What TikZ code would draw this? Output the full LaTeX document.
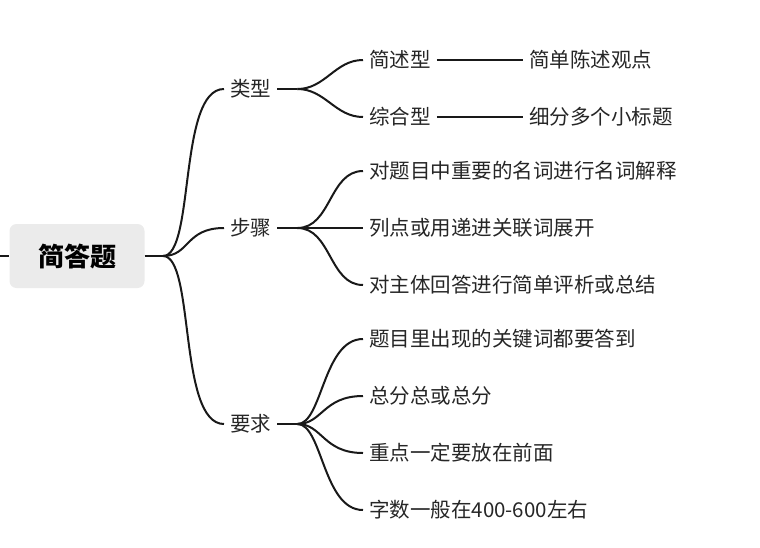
\documentclass[tikz,border=0pt]{standalone}
\usepackage{fontspec}
\setmainfont{Noto Sans CJK SC}
\usetikzlibrary{positioning}
\tikzset{
  lnk/.style={line width=2pt, black!90},
  txt/.style={font=\fontsize{20.5}{22}\selectfont, inner xsep=6pt, inner ysep=2pt, anchor=west, text=black!85}
}
\begin{document}
\begin{tikzpicture}[x=1pt,y=-1pt]
  \useasboundingbox (0,0) rectangle (760,547);
  \tikzstyle{root} = [fill=black!8, rounded corners=7pt, minimum width=135pt, minimum height=64pt, font=\fontsize{26}{28}\selectfont\bfseries]

  \node[root] (jdt) at (77,256) {简答题};
  \coordinate (lft) at (0,256);
  \coordinate (hub) at (163,256);

  % first level
  \node[txt] (lx) at (224,89) {类型};
  \node[txt] (bz) at (224,228) {步骤};
  \node[txt] (yq) at (224,424) {要求};

  % second level
  \node[txt] (jsx) at (363,60) {简述型};
  \node[txt] (zhx) at (363,117) {综合型};
  \node[txt] (jdcs) at (523,60) {简单陈述观点};
  \node[txt] (xfdg) at (523,117) {细分多个小标题};

  \node[txt] (b1) at (363,171) {对题目中重要的名词进行名词解释};
  \node[txt] (b2) at (363,228) {列点或用递进关联词展开};
  \node[txt] (b3) at (363,285) {对主体回答进行简单评析或总结};

  \node[txt] (y1) at (363,339) {题目里出现的关键词都要答到};
  \node[txt] (y2) at (363,396) {总分总或总分};
  \node[txt] (y3) at (363,453) {重点一定要放在前面};
  \node[txt] (y4) at (363,510) {字数一般在400-600左右};

  \draw[lnk] (lft) -- (jdt.west);
  \draw[lnk] (jdt.east) -- (hub);
  \draw[lnk] (hub) .. controls (195,256) and (178,89) .. (lx.west);
  \draw[lnk] (hub) .. controls (190,256) and (185,228) .. (bz.west);
  \draw[lnk] (hub) .. controls (195,256) and (178,424) .. (yq.west);

  \draw[lnk] (lx.east) -- ++(20,0) coordinate (lxh);
  \draw[lnk] (bz.east) -- ++(20,0) coordinate (bzh);
  \draw[lnk] (yq.east) -- ++(20,0) coordinate (yqh);

  \foreach \c in {jsx,zhx}
    \draw[lnk] (lxh) to[out=0,in=180] (\c.west);
  \foreach \c in {b1,b2,b3}
    \draw[lnk] (bzh) to[out=0,in=180] (\c.west);
  \foreach \c in {y1,y2,y3,y4}
    \draw[lnk] (yqh) .. controls ([xshift=25]yqh) and ([xshift=-40]\c.west) .. (\c.west);

  \draw[lnk] (jsx.east) -- (jdcs.west);
  \draw[lnk] (zhx.east) -- (xfdg.west);
\end{tikzpicture}
\end{document}
